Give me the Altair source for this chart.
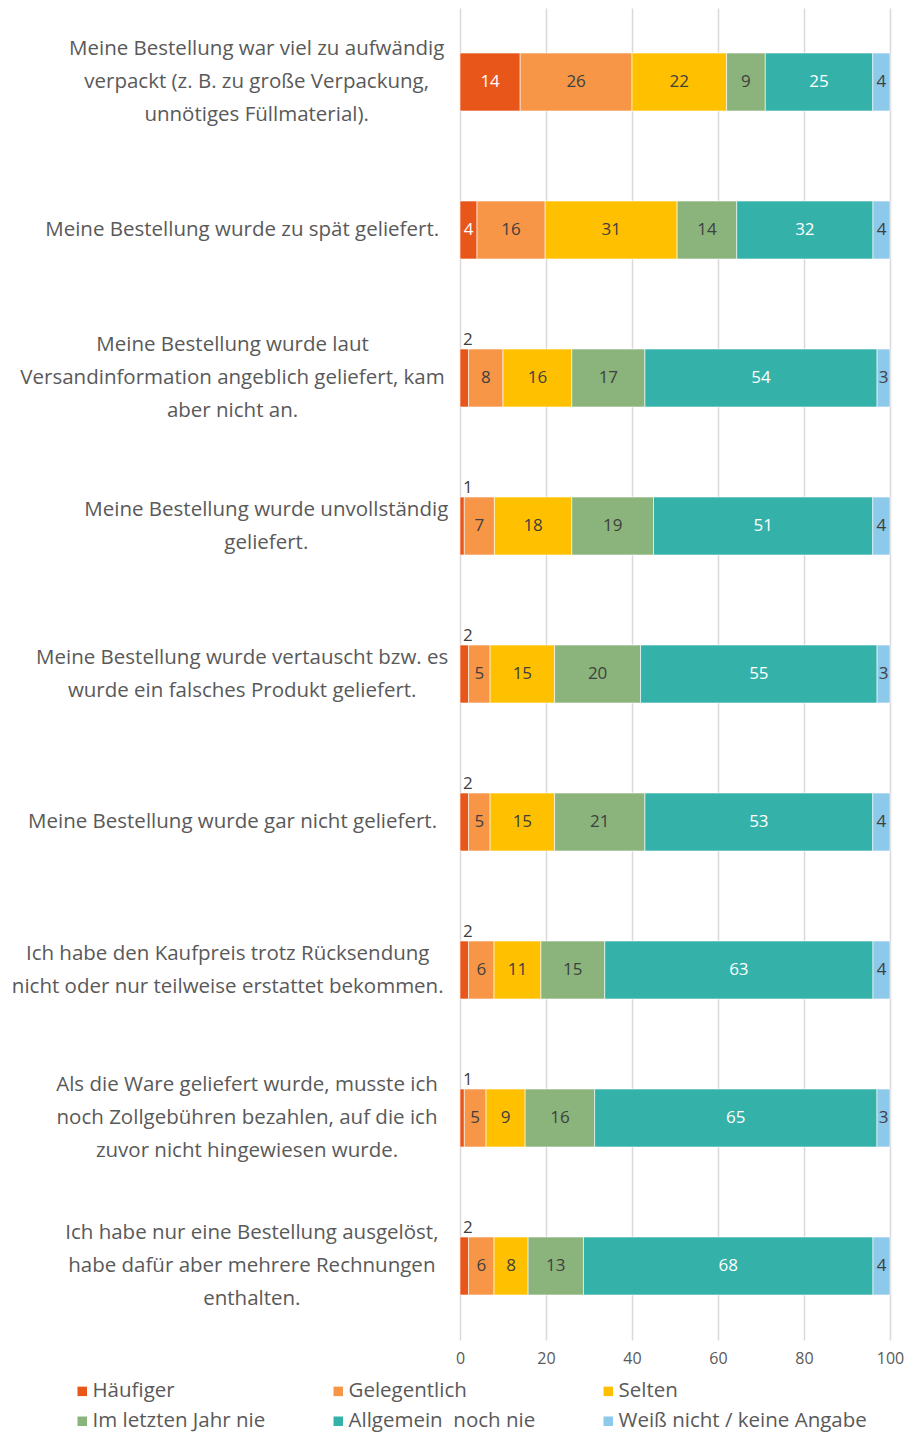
import altair as alt
import pandas as pd

categories = [
    "Meine Bestellung war viel zu aufwändig|verpackt (z. B. zu große Verpackung,|unnötiges Füllmaterial).",
    "Meine Bestellung wurde zu spät geliefert.",
    "Meine Bestellung wurde laut|Versandinformation angeblich geliefert, kam|aber nicht an.",
    "Meine Bestellung wurde unvollständig|geliefert.",
    "Meine Bestellung wurde vertauscht bzw. es|wurde ein falsches Produkt geliefert.",
    "Meine Bestellung wurde gar nicht geliefert.",
    "Ich habe den Kaufpreis trotz Rücksendung|nicht oder nur teilweise erstattet bekommen.",
    "Als die Ware geliefert wurde, musste ich|noch Zollgebühren bezahlen, auf die ich|zuvor nicht hingewiesen wurde.",
    "Ich habe nur eine Bestellung ausgelöst,|habe dafür aber mehrere Rechnungen|enthalten.",
]

series_names = ["Häufiger", "Gelegentlich", "Selten", "Im letzten Jahr nie",
                "Allgemein\u00a0 noch nie", "Weiß nicht / keine Angabe"]
series_colors = ["#E8561A", "#F79646", "#FFC000", "#8AB47B", "#34B1A9", "#8DC9EA"]

haeufiger = [14, 4, 2, 1, 2, 2, 2, 1, 2]
gelegentlich = [26, 16, 8, 7, 5, 5, 6, 5, 6]
selten = [22, 31, 16, 18, 15, 15, 11, 9, 8]
letztes_jahr_nie = [9, 14, 17, 19, 20, 21, 15, 16, 13]
noch_nie = [25, 32, 54, 51, 55, 53, 63, 65, 68]
weiss_nicht = [4, 4, 3, 4, 3, 4, 4, 3, 4]

all_values = [haeufiger, gelegentlich, selten, letztes_jahr_nie, noch_nie, weiss_nicht]

rows = []
for si, (name, vals) in enumerate(zip(series_names, all_values)):
    for ci, cat in enumerate(categories):
        rows.append({"cat": cat, "series": name, "order": si, "value": vals[ci]})
df = pd.DataFrame(rows)
cat_df = pd.DataFrame({"cat": categories})

FONT = "Open Sans"
GRAY = "#595959"
STEP = 148
LABEL_SIZE = 20.5
CHAR_W = 9.65      # approx. average glyph width at LABEL_SIZE
LABEL_GAP = 20     # gap between label block and plot

base = (
    alt.Chart(df)
    .transform_joinaggregate(total="sum(value)", groupby=["cat"])
    .transform_calculate(pct="datum.value / datum.total * 100")
    .transform_window(end="sum(pct)", sort=[alt.SortField("order")],
                      groupby=["cat"], frame=[None, 0])
    .transform_calculate(start="datum.end - datum.pct")
    .transform_calculate(mid="(datum.start + datum.end) / 2")
)

y_enc = alt.Y("cat:N", sort=categories, title=None,
              scale=alt.Scale(paddingInner=0, paddingOuter=0), axis=None)

x_scale = alt.Scale(domain=[0, 100], nice=False)

bars = base.mark_bar(size=58, stroke="white", strokeWidth=0.6).encode(
    x=alt.X("start:Q", scale=x_scale, title=None,
            axis=alt.Axis(values=[0, 20, 40, 60, 80, 100], grid=True,
                          gridColor="#d9d9d9", gridWidth=1.5, domain=False,
                          ticks=False, labelFontSize=16, labelColor=GRAY,
                          labelFont=FONT, labelPadding=10, labelFlush=False)),
    x2="end:Q",
    y=y_enc,
    color=alt.Color(
        "series:N", sort=series_names,
        scale=alt.Scale(domain=series_names, range=series_colors),
        legend=alt.Legend(
            title=None, orient="none", legendX=-388, legendY=1373,
            direction="horizontal", columns=3, gridAlign="each",
            columnPadding=62, rowPadding=9, symbolType="square",
            symbolSize=90, symbolStrokeWidth=0, labelFontSize=LABEL_SIZE,
            labelColor=GRAY, labelFont=FONT, labelOffset=0, labelLimit=0,
        ),
    ),
    order=alt.Order("order:Q"),
)

inside = base.transform_filter("!(datum.order == 0 && datum.value < 3)").mark_text(
    fontSize=17, font=FONT, baseline="middle", align="center"
).encode(
    x=alt.X("mid:Q", scale=x_scale),
    y=alt.Y("cat:N", sort=categories),
    text="value:Q",
    color=alt.condition("datum.order == 0 || datum.order == 4",
                        alt.value("white"), alt.value("#404040")),
)

small = base.transform_filter("datum.order == 0 && datum.value < 3").mark_text(
    fontSize=17, font=FONT, baseline="bottom", align="left", dx=3, dy=-29,
    color="#404040",
).encode(
    x=alt.X("start:Q", scale=x_scale),
    y=alt.Y("cat:N", sort=categories),
    text="value:Q",
)

labels = (
    alt.Chart(cat_df)
    .transform_calculate(lines="split(datum.cat, '|')")
    .transform_calculate(
        maxlen="max(length(datum.lines[0]), length(datum.lines[1] || ''), length(datum.lines[2] || ''))",
        off=f"{STEP / 2} - (length(datum.lines) - 1) * 33 / 2",
    )
    .transform_calculate(px=f"-{LABEL_GAP} - datum.maxlen * {CHAR_W} / 2")
    .mark_text(font=FONT, fontSize=LABEL_SIZE, lineHeight=33, align="center",
               baseline="middle", color=GRAY)
    .encode(
        x=alt.X("px:Q", scale=None),
        y=alt.Y("cat:N", sort=categories),
        yOffset=alt.YOffset("off:Q", scale=None),
        text="lines:N",
    )
)

chart = (
    alt.layer(bars, inside, small, labels)
    .properties(width=430, height=STEP * len(categories),
                autosize=alt.AutoSizeParams(type="none"),
                padding={"top": 0, "left": 452, "right": 17, "bottom": 93})
    .configure_view(stroke=None)
)

chart.save("out.html", embed_options={"renderer": "svg", "actions": False})
